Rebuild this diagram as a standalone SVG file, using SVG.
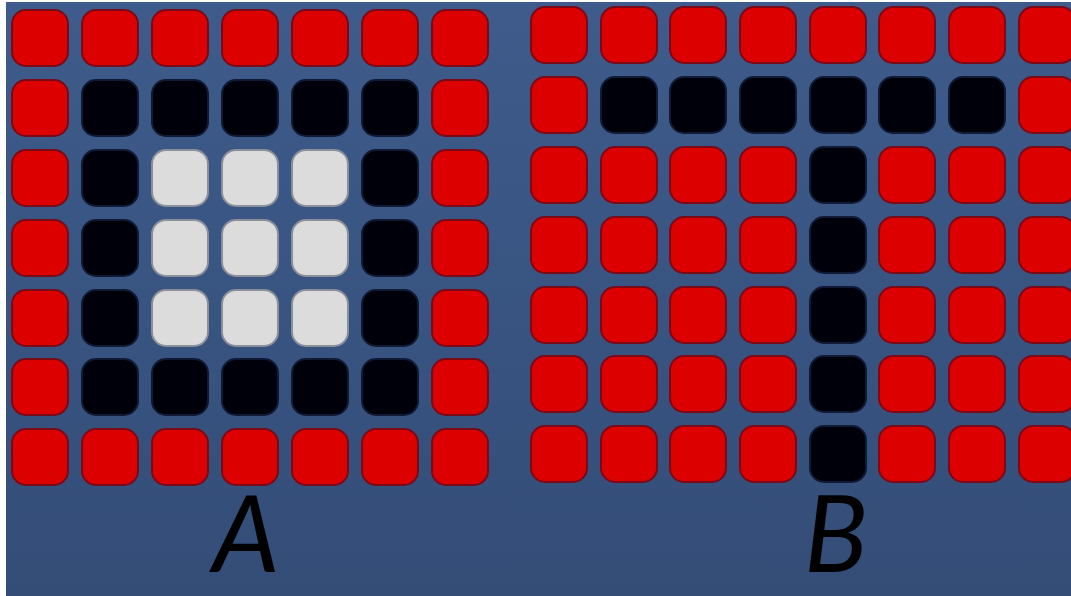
<svg xmlns="http://www.w3.org/2000/svg" width="1071" height="596" viewBox="0 0 1071 596">
<defs>
<linearGradient id="bg" x1="0" y1="0" x2="0" y2="1">
<stop offset="0" stop-color="#3e5b8b"/>
<stop offset="1" stop-color="#334d77"/>
</linearGradient>
<style>
.r{fill:#dd0000;stroke:#7a0a18;stroke-width:2}
.k{fill:#00000a;stroke:#101a35;stroke-width:2}
.w{fill:#dcdcdc;stroke:#8a8f9a;stroke-width:2}
.lbl{font-family:Lato,"Liberation Sans",Arial,sans-serif;font-style:italic;font-size:106px;fill:#000;text-anchor:middle}
</style>
</defs>
<rect width="1071" height="596" fill="#ffffff"/>
<rect x="6" y="2" width="1065" height="594" fill="url(#bg)"/>
<g id="gridA">
<rect class="r" x="12" y="10" width="56" height="56" rx="14"/>
<rect class="r" x="82" y="10" width="56" height="56" rx="14"/>
<rect class="r" x="152" y="10" width="56" height="56" rx="14"/>
<rect class="r" x="222" y="10" width="56" height="56" rx="14"/>
<rect class="r" x="292" y="10" width="56" height="56" rx="14"/>
<rect class="r" x="362" y="10" width="56" height="56" rx="14"/>
<rect class="r" x="432" y="10" width="56" height="56" rx="14"/>
<rect class="r" x="12" y="80" width="56" height="56" rx="14"/>
<rect class="k" x="82" y="80" width="56" height="56" rx="14"/>
<rect class="k" x="152" y="80" width="56" height="56" rx="14"/>
<rect class="k" x="222" y="80" width="56" height="56" rx="14"/>
<rect class="k" x="292" y="80" width="56" height="56" rx="14"/>
<rect class="k" x="362" y="80" width="56" height="56" rx="14"/>
<rect class="r" x="432" y="80" width="56" height="56" rx="14"/>
<rect class="r" x="12" y="150" width="56" height="56" rx="14"/>
<rect class="k" x="82" y="150" width="56" height="56" rx="14"/>
<rect class="w" x="152" y="150" width="56" height="56" rx="14"/>
<rect class="w" x="222" y="150" width="56" height="56" rx="14"/>
<rect class="w" x="292" y="150" width="56" height="56" rx="14"/>
<rect class="k" x="362" y="150" width="56" height="56" rx="14"/>
<rect class="r" x="432" y="150" width="56" height="56" rx="14"/>
<rect class="r" x="12" y="220" width="56" height="56" rx="14"/>
<rect class="k" x="82" y="220" width="56" height="56" rx="14"/>
<rect class="w" x="152" y="220" width="56" height="56" rx="14"/>
<rect class="w" x="222" y="220" width="56" height="56" rx="14"/>
<rect class="w" x="292" y="220" width="56" height="56" rx="14"/>
<rect class="k" x="362" y="220" width="56" height="56" rx="14"/>
<rect class="r" x="432" y="220" width="56" height="56" rx="14"/>
<rect class="r" x="12" y="290" width="56" height="56" rx="14"/>
<rect class="k" x="82" y="290" width="56" height="56" rx="14"/>
<rect class="w" x="152" y="290" width="56" height="56" rx="14"/>
<rect class="w" x="222" y="290" width="56" height="56" rx="14"/>
<rect class="w" x="292" y="290" width="56" height="56" rx="14"/>
<rect class="k" x="362" y="290" width="56" height="56" rx="14"/>
<rect class="r" x="432" y="290" width="56" height="56" rx="14"/>
<rect class="r" x="12" y="359" width="56" height="56" rx="14"/>
<rect class="k" x="82" y="359" width="56" height="56" rx="14"/>
<rect class="k" x="152" y="359" width="56" height="56" rx="14"/>
<rect class="k" x="222" y="359" width="56" height="56" rx="14"/>
<rect class="k" x="292" y="359" width="56" height="56" rx="14"/>
<rect class="k" x="362" y="359" width="56" height="56" rx="14"/>
<rect class="r" x="432" y="359" width="56" height="56" rx="14"/>
<rect class="r" x="12" y="429" width="56" height="56" rx="14"/>
<rect class="r" x="82" y="429" width="56" height="56" rx="14"/>
<rect class="r" x="152" y="429" width="56" height="56" rx="14"/>
<rect class="r" x="222" y="429" width="56" height="56" rx="14"/>
<rect class="r" x="292" y="429" width="56" height="56" rx="14"/>
<rect class="r" x="362" y="429" width="56" height="56" rx="14"/>
<rect class="r" x="432" y="429" width="56" height="56" rx="14"/>
</g>
<g id="gridB">
<rect class="r" x="531" y="7" width="56" height="56" rx="14"/>
<rect class="r" x="601" y="7" width="56" height="56" rx="14"/>
<rect class="r" x="670" y="7" width="56" height="56" rx="14"/>
<rect class="r" x="740" y="7" width="56" height="56" rx="14"/>
<rect class="r" x="810" y="7" width="56" height="56" rx="14"/>
<rect class="r" x="879" y="7" width="56" height="56" rx="14"/>
<rect class="r" x="949" y="7" width="56" height="56" rx="14"/>
<rect class="r" x="1019" y="7" width="56" height="56" rx="14"/>
<rect class="r" x="531" y="77" width="56" height="56" rx="14"/>
<rect class="k" x="601" y="77" width="56" height="56" rx="14"/>
<rect class="k" x="670" y="77" width="56" height="56" rx="14"/>
<rect class="k" x="740" y="77" width="56" height="56" rx="14"/>
<rect class="k" x="810" y="77" width="56" height="56" rx="14"/>
<rect class="k" x="879" y="77" width="56" height="56" rx="14"/>
<rect class="k" x="949" y="77" width="56" height="56" rx="14"/>
<rect class="r" x="1019" y="77" width="56" height="56" rx="14"/>
<rect class="r" x="531" y="147" width="56" height="56" rx="14"/>
<rect class="r" x="601" y="147" width="56" height="56" rx="14"/>
<rect class="r" x="670" y="147" width="56" height="56" rx="14"/>
<rect class="r" x="740" y="147" width="56" height="56" rx="14"/>
<rect class="k" x="810" y="147" width="56" height="56" rx="14"/>
<rect class="r" x="879" y="147" width="56" height="56" rx="14"/>
<rect class="r" x="949" y="147" width="56" height="56" rx="14"/>
<rect class="r" x="1019" y="147" width="56" height="56" rx="14"/>
<rect class="r" x="531" y="217" width="56" height="56" rx="14"/>
<rect class="r" x="601" y="217" width="56" height="56" rx="14"/>
<rect class="r" x="670" y="217" width="56" height="56" rx="14"/>
<rect class="r" x="740" y="217" width="56" height="56" rx="14"/>
<rect class="k" x="810" y="217" width="56" height="56" rx="14"/>
<rect class="r" x="879" y="217" width="56" height="56" rx="14"/>
<rect class="r" x="949" y="217" width="56" height="56" rx="14"/>
<rect class="r" x="1019" y="217" width="56" height="56" rx="14"/>
<rect class="r" x="531" y="287" width="56" height="56" rx="14"/>
<rect class="r" x="601" y="287" width="56" height="56" rx="14"/>
<rect class="r" x="670" y="287" width="56" height="56" rx="14"/>
<rect class="r" x="740" y="287" width="56" height="56" rx="14"/>
<rect class="k" x="810" y="287" width="56" height="56" rx="14"/>
<rect class="r" x="879" y="287" width="56" height="56" rx="14"/>
<rect class="r" x="949" y="287" width="56" height="56" rx="14"/>
<rect class="r" x="1019" y="287" width="56" height="56" rx="14"/>
<rect class="r" x="531" y="356" width="56" height="56" rx="14"/>
<rect class="r" x="601" y="356" width="56" height="56" rx="14"/>
<rect class="r" x="670" y="356" width="56" height="56" rx="14"/>
<rect class="r" x="740" y="356" width="56" height="56" rx="14"/>
<rect class="k" x="810" y="356" width="56" height="56" rx="14"/>
<rect class="r" x="879" y="356" width="56" height="56" rx="14"/>
<rect class="r" x="949" y="356" width="56" height="56" rx="14"/>
<rect class="r" x="1019" y="356" width="56" height="56" rx="14"/>
<rect class="r" x="531" y="426" width="56" height="56" rx="14"/>
<rect class="r" x="601" y="426" width="56" height="56" rx="14"/>
<rect class="r" x="670" y="426" width="56" height="56" rx="14"/>
<rect class="r" x="740" y="426" width="56" height="56" rx="14"/>
<rect class="k" x="810" y="426" width="56" height="56" rx="14"/>
<rect class="r" x="879" y="426" width="56" height="56" rx="14"/>
<rect class="r" x="949" y="426" width="56" height="56" rx="14"/>
<rect class="r" x="1019" y="426" width="56" height="56" rx="14"/>
</g>
<g id="labels">
<text class="lbl" x="246" y="572">A</text>
<text class="lbl" x="836" y="572">B</text>
</g>
</svg>
